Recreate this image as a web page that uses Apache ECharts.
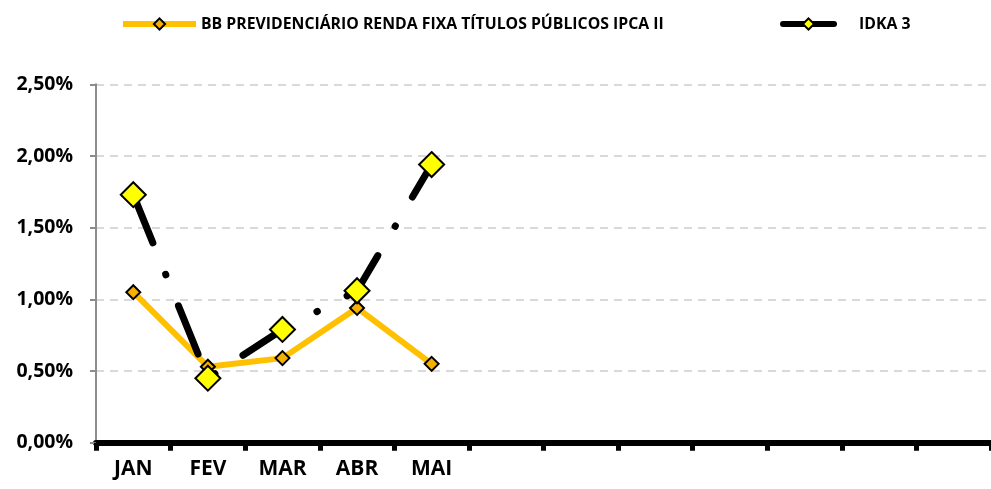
<!DOCTYPE html>
<html>
<head>
<meta charset="utf-8">
<script src="https://cdn.jsdelivr.net/npm/echarts@6/dist/echarts.min.js"></script>
<style>
  html, body { margin: 0; padding: 0; background: #ffffff; }
  #chart { width: 991px; height: 489px; }
</style>
</head>
<body>
<div id="chart"></div>
<script>
// ---- data ----
const categories = ['JAN', 'FEV', 'MAR', 'ABR', 'MAI', 'JUN', 'JUL', 'AGO', 'SET', 'OUT', 'NOV', 'DEZ'];
const seriesNames = ['BB PREVIDENCIÁRIO RENDA FIXA TÍTULOS PÚBLICOS IPCA II', 'IDKA 3'];
const bbValues = [1.05, 0.53, 0.59, 0.94, 0.55];
const idkaValues = [1.73, 0.45, 0.79, 1.06, 1.94];
const yTicks = [0, 0.5, 1.0, 1.5, 2.0, 2.5];

const FONT = '"Open Sans", "Liberation Sans", sans-serif';
const fmtPct = v => v.toFixed(2).replace('.', ',') + '%';

const chart = echarts.init(document.getElementById('chart'), null, { renderer: 'canvas' });
chart.setOption({
  backgroundColor: '#ffffff',
  animation: false,
  legend: [
    {
      data: [{ name: seriesNames[0], lineStyle: { type: 'solid', width: 6 } }],
      left: 120, top: 16, padding: 0,
      itemWidth: 73, itemHeight: 14,
      textStyle: { fontFamily: FONT, fontWeight: 'bold', fontSize: 15.8, color: '#000' }
    },
    {
      data: [{ name: seriesNames[1], lineStyle: { type: 'solid', width: 6, cap: 'round' } }],
      left: 780, top: 16, padding: 0,
      itemWidth: 51, itemHeight: 14,
      textStyle: { fontFamily: FONT, fontWeight: 'bold', fontSize: 15.8, color: '#000', padding: [0, 0, 0, 20] }
    }
  ],
  grid: { left: 96, right: -5, top: 84.3, bottom: 46.3, containLabel: false },
  xAxis: {
    type: 'category',
    data: categories,
    boundaryGap: true,
    axisLine: { show: true, lineStyle: { color: '#000', width: 6 } },
    axisTick: { show: true, interval: 0, length: 8, lineStyle: { color: '#000', width: 5 } },
    axisLabel: {
      interval: 0, margin: 16,
      fontFamily: FONT, fontWeight: 'bold', fontSize: 21, color: '#000',
      formatter: (v, i) => (i < bbValues.length ? v : '')
    },
    splitLine: { show: false }
  },
  yAxis: {
    type: 'value',
    min: yTicks[0], max: yTicks[yTicks.length - 1], interval: 0.5,
    axisLine: { show: true, lineStyle: { color: '#8c8c8c', width: 2 } },
    axisTick: { show: true, length: 6, lineStyle: { color: '#8c8c8c', width: 2 } },
    axisLabel: {
      margin: 23,
      fontFamily: FONT, fontWeight: 'bold', fontSize: 19.5, color: '#000',
      formatter: v => fmtPct(v)
    },
    splitLine: { show: true, lineStyle: { color: '#d9d9d9', width: 2, type: [8, 6] } }
  },
  series: [
    {
      name: seriesNames[0],
      type: 'line',
      data: bbValues,
      smooth: false,
      symbol: 'diamond',
      symbolSize: 14,
      lineStyle: { color: '#FFC000', width: 6 },
      itemStyle: { color: '#F5B000', borderColor: '#000', borderWidth: 2 },
      z: 2
    },
    {
      name: seriesNames[1],
      type: 'line',
      data: idkaValues,
      smooth: false,
      symbol: 'diamond',
      symbolSize: 25,
      lineStyle: { color: '#000', width: 7, type: [52, 34, 0.5, 33.5], cap: 'round' },
      itemStyle: { color: '#FFFF00', borderColor: '#000', borderWidth: 2 },
      z: 3
    }
  ]
});
</script>
</body>
</html>
